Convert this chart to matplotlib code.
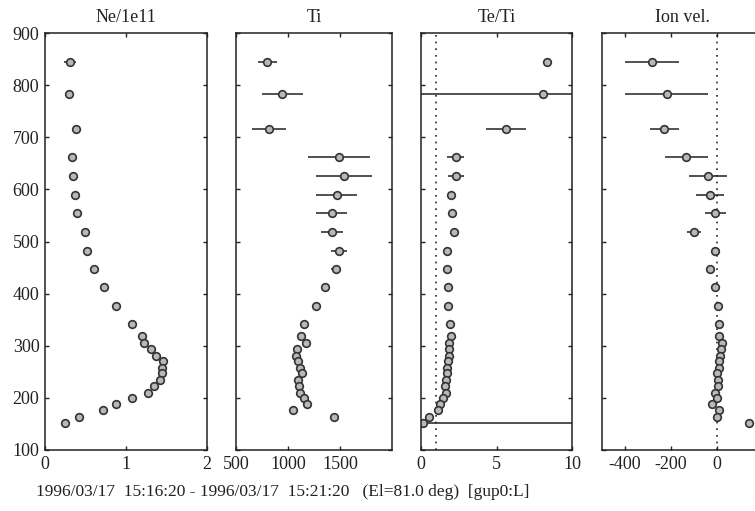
# =========================
# 1. IMPORT LIBRARIES
# =========================
import numpy as np
import matplotlib
matplotlib.use("Agg")
import matplotlib.pyplot as plt

plt.rcParams['font.family'] = ['Liberation Serif', 'DejaVu Serif']


# =========================
# 2. DATA
# =========================
alt = [844, 783, 715, 662, 626, 590, 554, 518, 482, 447, 412, 377, 342, 318,
       306, 294, 281, 270, 258, 247, 234, 222, 210, 199, 188, 176, 164, 152]

ne = [0.31, 0.30, 0.38, 0.33, 0.35, 0.37, 0.40, 0.49, 0.52, 0.60, 0.73, 0.88,
      1.07, 1.20, 1.22, 1.31, 1.37, 1.46, 1.45, 1.44, 1.42, 1.34, 1.27, 1.07,
      0.88, 0.71, 0.42, 0.25]
ne_err = [0.07, 0.03, 0.02, 0.02, 0.02, 0.02, 0.01, 0.01, 0.01, 0.01, 0.01, 0.01,
          0.01, 0.01, 0.01, 0.01, 0.01, 0.01, 0.01, 0.01, 0.01, 0.01, 0.01, 0.01,
          0.01, 0.01, 0.01, 0.01]

ti = [801, 946, 817, 1493, 1542, 1468, 1419, 1426, 1490, 1461, 1355, 1274,
      1155, 1123, 1171, 1091, 1081, 1097, 1113, 1130, 1097, 1107, 1113, 1155,
      1178, 1048, 1445, np.nan]
ti_err = [90, 196, 160, 300, 270, 200, 150, 105, 80, 45, 20, 15,
          10, 10, 10, 10, 10, 10, 10, 10, 10, 10, 10, 10,
          10, 10, 10, np.nan]

tr = [8.33, 8.07, 5.64, 2.30, 2.32, 1.99, 2.03, 2.19, 1.70, 1.70, 1.77, 1.81,
      1.92, 1.99, 1.88, 1.88, 1.85, 1.77, 1.70, 1.70, 1.63, 1.59, 1.63, 1.46,
      1.24, 1.13, 0.51, 0.11]
tr_err = [0.05, 30.0, 1.32, 0.55, 0.50, 0.10, 0.10, 0.10, 0.05, 0.05, 0.05, 0.05,
          0.05, 0.05, 0.05, 0.05, 0.05, 0.05, 0.05, 0.05, 0.05, 0.05, 0.05, 0.05,
          0.05, 0.05, 0.05, 30.0]

vi = [-284, -218, -229, -134, -39, -29, -7, -99, -7, -29, -10, 4,
      10, 10, 22, 16, 13, 7, 7, 0, 4, 4, -7, 0,
      -22, 7, 0, 141]
vi_err = [118, 180, 64, 94, 82, 61, 47, 31, 10, 5, 4, 4,
          4, 4, 4, 4, 4, 4, 4, 4, 4, 4, 4, 4,
          4, 4, 4, 4]

titles = ['Ne/1e11', 'Ti', 'Te/Ti', 'Ion vel.']
xlims = [(0, 2), (500, 2000), (0, 10), (-500, 200)]
xticks = [[0, 1, 2], [500, 1000, 1500], [0, 5, 10], [-400, -200, 0]]
xticklabels = [['0', '1', '2'], ['500', '1000', '1500'], ['0', '5', '10'],
               ['-400', '-200', '0']]
yticks = [100, 200, 300, 400, 500, 600, 700, 800, 900]

footer = "1996/03/17  15:16:20 - 1996/03/17  15:21:20   (El=81.0 deg)  [gup0:L]"


# =========================
# 3. FIGURE LAYOUT
# =========================
W, H = 755, 511
fig = plt.figure(figsize=(W / 100, H / 100), dpi=100)

# panel edges in pixels (left, right); the last panel runs past the crop
edges = [(45, 207), (236, 392), (421, 572), (602, 763)]
top_px, bot_px = 33, 450

ink = '#222222'
series = [(ne, ne_err), (ti, ti_err), (tr, tr_err), (vi, vi_err)]

for i, (l, r) in enumerate(edges):
    ax = fig.add_axes([l / W, 1 - bot_px / H, (r - l) / W, (bot_px - top_px) / H])
    x, xe = series[i]

    if i == 2:
        ax.axvline(1, color=ink, linestyle=(0, (1, 3)), linewidth=1.2)
    if i == 3:
        ax.axvline(0, color=ink, linestyle=(0, (1, 3)), linewidth=1.2)

    ax.errorbar(x, alt, xerr=xe, fmt='o', color=ink, ecolor=ink,
                elinewidth=1.1, capsize=0, markersize=5.5,
                markerfacecolor='#b8b8b8', markeredgecolor='#333333',
                markeredgewidth=1.2)

    ax.set_xlim(*xlims[i])
    ax.set_ylim(100, 900)
    ax.set_xticks(xticks[i])
    ax.set_xticklabels(xticklabels[i])
    ax.set_yticks(yticks)
    if i == 0:
        ax.set_yticklabels([str(v) for v in yticks])
    else:
        ax.set_yticklabels([])
    ax.tick_params(direction='in', length=3, width=1, top=True, right=True,
                   labelsize=13, colors=ink, pad=4)
    for s in ax.spines.values():
        s.set_color(ink)
        s.set_linewidth(1.1)
    ax.set_title(titles[i], fontsize=13, color=ink, pad=8)

fig.text(36 / W, 1 - 492 / H, footer, fontsize=12.5, color=ink, va='center', ha='left')


# =========================
# 4. SAVE
# =========================
fig.savefig('out.png', dpi=100)
